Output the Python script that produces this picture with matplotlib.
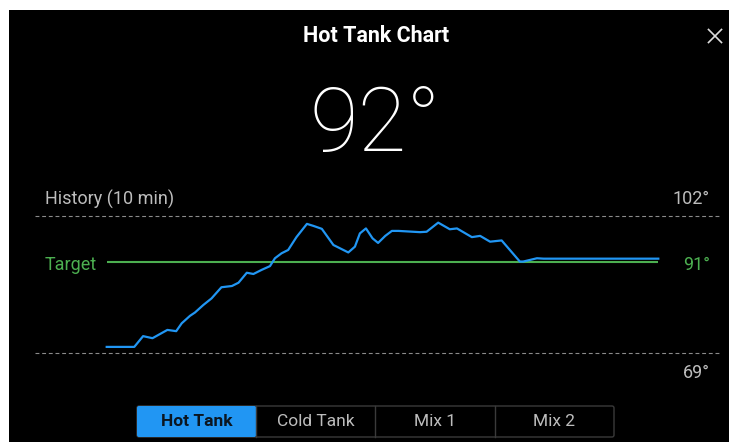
import matplotlib
matplotlib.use("Agg")
import matplotlib.pyplot as plt
from matplotlib.patches import Rectangle, FancyBboxPatch

plt.rcParams["font.family"] = ["Roboto", "DejaVu Sans"]

W, H = 729, 442
BLUE = "#2196F3"; GREEN = "#4CAF50"; GREY = "#BDBDBD"; DASH = "#8A8A8A"

# tank temperature history, minutes vs degrees
minutes = [0, 0.50, 0.66, 0.83, 1.10, 1.26, 1.36, 1.51, 1.60, 1.75, 1.90, 2.08, 2.27, 2.39,
           2.54, 2.66, 2.81, 2.96, 3.05, 3.17, 3.29, 3.44, 3.63, 3.75, 3.90, 4.11, 4.38, 4.50,
           4.59, 4.70, 4.82, 4.92, 5.05, 5.17, 5.29, 5.68, 5.80, 6.01, 6.22, 6.35, 6.62, 6.77,
           6.95, 7.16, 7.49, 7.55, 7.80, 7.92, 10.0]
temps = [70.4, 70.4, 73.0, 72.5, 74.5, 74.2, 76.1, 77.9, 78.7, 80.5, 82.1, 84.8, 85.1, 85.9,
         88.3, 88.0, 89.0, 89.9, 91.8, 93.0, 93.8, 96.9, 100.1, 99.6, 98.9, 95.0, 93.2, 94.6,
         97.8, 99.0, 96.6, 95.5, 97.2, 98.4, 98.4, 98.1, 98.2, 100.4, 98.8, 99.0, 96.9, 97.2,
         95.8, 96.1, 91.0, 91.0, 91.8, 91.7, 91.7]
target = 91
current = 92
y_hi, y_lo = 102, 69
window_min = 10
tabs = ["Hot Tank", "Cold Tank", "Mix 1", "Mix 2"]
active_tab = 0

fig = plt.figure(figsize=(W / 100, H / 100), dpi=100, facecolor="white")

# pixel-space overlay for the panel, labels and tab bar
ui = fig.add_axes([0, 0, 1, 1]); ui.set_xlim(0, W); ui.set_ylim(H, 0); ui.axis("off")
ui.add_patch(Rectangle((9, 10), W - 9, H - 10, facecolor="black", edgecolor="none"))

ui.text(376, 36, "Hot Tank Chart", ha="center", va="center", fontsize=15.5, weight="bold", color="white")
ui.plot([708.5, 721.5], [29.5, 42.5], color="#DDDDDD", lw=1.2)
ui.plot([708.5, 721.5], [42.5, 29.5], color="#DDDDDD", lw=1.2)
ui.text(375, 150.5, f"{current}°", ha="center", va="baseline", fontsize=64, weight="light", color="white")

LBL = 13
ui.text(45, 204.5, f"History ({window_min} min)", ha="left", va="baseline", fontsize=LBL, color=GREY)
ui.text(710, 204.5, f"{y_hi}°", ha="right", va="baseline", fontsize=LBL, color=GREY)
ui.text(45, 269.5, "Target", ha="left", va="baseline", fontsize=LBL, color=GREEN)
ui.text(710, 269.5, f"{target}°", ha="right", va="baseline", fontsize=LBL, color=GREEN)
ui.text(710, 377.5, f"{y_lo}°", ha="right", va="baseline", fontsize=LBL, color=GREY)

# tab bar
tx0, tx1, ty0, ty1 = 137, 614, 406, 437
tw = (tx1 - tx0) / len(tabs)
ui.add_patch(FancyBboxPatch((tx0, ty0), tx1 - tx0, ty1 - ty0, boxstyle="round,pad=0,rounding_size=2",
             facecolor="black", edgecolor="#3A3A3A", lw=1))
for i, name in enumerate(tabs):
    x = tx0 + i * tw
    if i == active_tab:
        ui.add_patch(FancyBboxPatch((x, ty0), tw, ty1 - ty0, boxstyle="round,pad=0,rounding_size=2",
                     facecolor=BLUE, edgecolor="none"))
    elif i > 0:
        ui.plot([x, x], [ty0, ty1], color="#3A3A3A", lw=1)
    ui.text(x + tw / 2, (ty0 + ty1) / 2 + 0.5, name, ha="center", va="center", fontsize=12.5,
            weight="bold" if i == active_tab else "normal",
            color="#0B1620" if i == active_tab else GREY)

# history chart: 0..10 min spans x 106.7..658.3 px, 102..69 spans y 216..352.7 px
px_per_min = (658.3 - 106.7) / window_min
ax_l, ax_r = 35, 720
ax = fig.add_axes([ax_l / W, 1 - 352.7 / H, (ax_r - ax_l) / W, (352.7 - 216) / H])
ax.set_xlim((ax_l - 106.7) / px_per_min, (ax_r - 106.7) / px_per_min)
ax.set_ylim(y_lo, y_hi)
ax.axis("off"); ax.patch.set_alpha(0)
for v in (y_hi, y_lo):
    ax.axhline(v, color=DASH, lw=0.8, dashes=(3.5, 2.5), clip_on=False)
ax.plot([0, window_min], [target, target], color=GREEN, lw=1.5, solid_capstyle="butt", clip_on=False)
ax.plot(minutes, temps, color=BLUE, lw=1.6, solid_joinstyle="round", clip_on=False)

fig.savefig("out.png", dpi=100, facecolor="white")
